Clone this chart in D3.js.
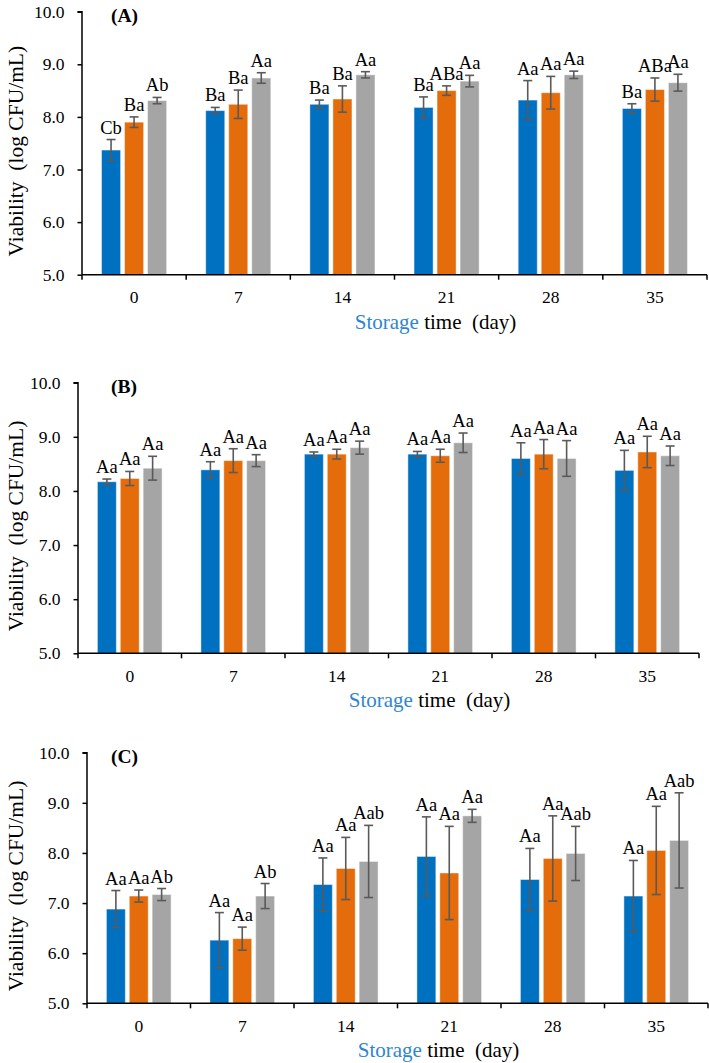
<!DOCTYPE html>
<html>
<head>
<meta charset="utf-8">
<script src="https://cdn.jsdelivr.net/npm/d3@7"></script>
<style>
  body { margin: 0; background: #fff; }
  text { font-family: "Liberation Serif", "Times New Roman", serif; }
</style>
</head>
<body>
<svg id="chart" width="709" height="1063"></svg>
<script>
// ---------- data ----------
const days = ["0", "7", "14", "21", "28", "35"];
const yTicks = [5, 6, 7, 8, 9, 10];
const panelNames = ["(A)", "(B)", "(C)"];
const seriesColors = ["#0070C0", "#E46C0A", "#A5A5A5"];

// Panel A
const a_s1 = [7.37, 8.12, 8.24, 8.18, 8.32, 8.16];
const a_s2 = [7.90, 8.24, 8.34, 8.50, 8.46, 8.52];
const a_s3 = [8.31, 8.74, 8.80, 8.68, 8.80, 8.65];
const a_e1 = [0.20, 0.06, 0.08, 0.20, 0.37, 0.09];
const a_e2 = [0.10, 0.27, 0.25, 0.09, 0.31, 0.22];
const a_e3 = [0.06, 0.10, 0.06, 0.11, 0.07, 0.16];
const a_l1 = ["Cb", "Ba", "Ba", "Ba", "Aa", "Ba"];
const a_l2 = ["Ba", "Ba", "Ba", "ABa", "Aa", "ABa"];
const a_l3 = ["Ab", "Aa", "Aa", "Aa", "Aa", "Aa"];

// Panel B
const b_s1 = [8.17, 8.39, 8.68, 8.68, 8.60, 8.38];
const b_s2 = [8.23, 8.56, 8.68, 8.65, 8.68, 8.72];
const b_s3 = [8.42, 8.56, 8.80, 8.89, 8.60, 8.65];
const b_e1 = [0.05, 0.15, 0.04, 0.05, 0.29, 0.37];
const b_e2 = [0.13, 0.22, 0.09, 0.12, 0.27, 0.29];
const b_e3 = [0.22, 0.11, 0.12, 0.18, 0.33, 0.18];
const b_l1 = ["Aa", "Aa", "Aa", "Aa", "Aa", "Aa"];
const b_l2 = ["Aa", "Aa", "Aa", "Aa", "Aa", "Aa"];
const b_l3 = ["Aa", "Aa", "Aa", "Aa", "Aa", "Aa"];

// Panel C
const c_s1 = [6.88, 6.26, 7.37, 7.93, 7.47, 7.14];
const c_s2 = [7.14, 6.29, 7.69, 7.60, 7.89, 8.05];
const c_s3 = [7.17, 7.14, 7.83, 8.74, 7.99, 8.25];
const c_e1 = [0.37, 0.55, 0.53, 0.79, 0.62, 0.71];
const c_e2 = [0.12, 0.23, 0.62, 0.93, 0.85, 0.88];
const c_e3 = [0.12, 0.25, 0.72, 0.13, 0.54, 0.95];
const c_l1 = ["Aa", "Aa", "Aa", "Aa", "Aa", "Aa"];
const c_l2 = ["Aa", "Aa", "Aa", "Aa", "Aa", "Aa"];
const c_l3 = ["Ab", "Ab", "Aab", "Aa", "Aab", "Aab"];

// ---------- layout ----------
const panels = [
  { name: panelNames[0], left: 82, right: 707, top: 11.7, bottom: 274.7,
    vals: [a_s1, a_s2, a_s3], errs: [a_e1, a_e2, a_e3], labs: [a_l1, a_l2, a_l3] },
  { name: panelNames[1], left: 78, right: 699, top: 382.7, bottom: 653.3,
    vals: [b_s1, b_s2, b_s3], errs: [b_e1, b_e2, b_e3], labs: [b_l1, b_l2, b_l3] },
  { name: panelNames[2], left: 87, right: 708, top: 752.7, bottom: 1003.3,
    vals: [c_s1, c_s2, c_s3], errs: [c_e1, c_e2, c_e3], labs: [c_l1, c_l2, c_l3] }
];

const svg = d3.select("#chart");

panels.forEach(p => {
  const g = svg.append("g");
  const x = d3.scaleBand().domain(days).range([p.left, p.right]).padding(0);
  const y = d3.scaleLinear().domain([5, 10]).range([p.bottom, p.top]);
  const bw = x.bandwidth();
  const barW = bw * 0.183;
  const step = bw * 0.221;

  p.vals.forEach((arr, si) => {
    const cx = d => x(d) + bw / 2 + (si - 1) * step;
    const rows = days.map((d, i) => ({ d, v: arr[i], e: p.errs[si][i], l: p.labs[si][i] }));
    g.selectAll(null).data(rows).enter().append("rect")
      .attr("x", r => cx(r.d) - barW / 2)
      .attr("y", r => y(r.v))
      .attr("width", barW)
      .attr("height", r => y(5) - y(r.v))
      .attr("fill", seriesColors[si])
      .attr("stroke", "#ffffff")
      .attr("stroke-opacity", 0.45)
      .attr("stroke-width", 1);
    const eg = g.selectAll(null).data(rows).enter().append("g")
      .attr("stroke", "#5a5a5a").attr("stroke-width", 1.6).attr("fill", "none");
    eg.append("line")
      .attr("x1", r => cx(r.d)).attr("x2", r => cx(r.d))
      .attr("y1", r => y(r.v + r.e)).attr("y2", r => y(r.v - r.e));
    eg.append("line")
      .attr("x1", r => cx(r.d) - 4.5).attr("x2", r => cx(r.d) + 4.5)
      .attr("y1", r => y(r.v + r.e)).attr("y2", r => y(r.v + r.e));
    eg.append("line")
      .attr("x1", r => cx(r.d) - 4.5).attr("x2", r => cx(r.d) + 4.5)
      .attr("y1", r => y(r.v - r.e)).attr("y2", r => y(r.v - r.e));
    g.selectAll(null).data(rows).enter().append("text")
      .attr("x", r => cx(r.d))
      .attr("y", r => y(r.v + r.e) - 6)
      .attr("text-anchor", "middle")
      .attr("font-size", 18.5)
      .attr("fill", "#000")
      .text(r => r.l);
  });

  // y axis
  const yAxis = d3.axisLeft(y).tickValues(yTicks).tickFormat(d3.format(".1f"))
    .tickSize(4.5).tickPadding(13);
  const ya = g.append("g").attr("transform", `translate(${p.left},0)`).call(yAxis);
  ya.select(".domain").attr("stroke", "#000").attr("stroke-width", 1.5)
    .attr("d", `M-4.5,${p.top}H0V${p.bottom}`);
  ya.selectAll(".tick line").attr("stroke", "#000").attr("stroke-width", 1.5);
  ya.selectAll(".tick text").attr("font-size", 17.5).attr("fill", "#000")
    .style("font-family", "'Liberation Serif', serif");

  // x axis
  const xa = g.append("g").attr("transform", `translate(0,${p.bottom})`)
    .call(d3.axisBottom(x).tickSize(0).tickPadding(16));
  xa.select(".domain").attr("stroke", "#000").attr("stroke-width", 1.5)
    .attr("d", `M${p.left},0H${p.right}`);
  xa.selectAll(".tick text").attr("font-size", 17.5).attr("fill", "#000")
    .style("font-family", "'Liberation Serif', serif");
  const bounds = days.map(d => x(d)).concat([p.right]);
  xa.selectAll(null).data(bounds).enter().append("line")
    .attr("x1", d => d).attr("x2", d => d).attr("y1", 0).attr("y2", 5)
    .attr("stroke", "#000").attr("stroke-width", 1.5);

  // x title
  const xt = g.append("text")
    .attr("x", (p.left + p.right) / 2 + 41)
    .attr("y", p.bottom + 54)
    .attr("text-anchor", "middle")
    .attr("font-size", 21)
    .style("white-space", "pre");
  xt.append("tspan").attr("fill", "#2E86D1").text("Storage");
  xt.append("tspan").attr("fill", "#000").text(" time  (day)");

  // y title
  g.append("text")
    .attr("transform", `translate(23,${(p.top + p.bottom) / 2 + 8}) rotate(-90)`)
    .attr("text-anchor", "middle")
    .attr("font-size", 21.5)
    .attr("fill", "#000")
    .style("white-space", "pre")
    .text("Viability  (log CFU/mL)");

  // panel label
  g.append("text")
    .attr("x", 111)
    .attr("y", p.top + 10.5)
    .attr("font-size", 19.5)
    .attr("font-weight", "bold")
    .attr("fill", "#000")
    .text(p.name);
});
</script>
</body>
</html>
